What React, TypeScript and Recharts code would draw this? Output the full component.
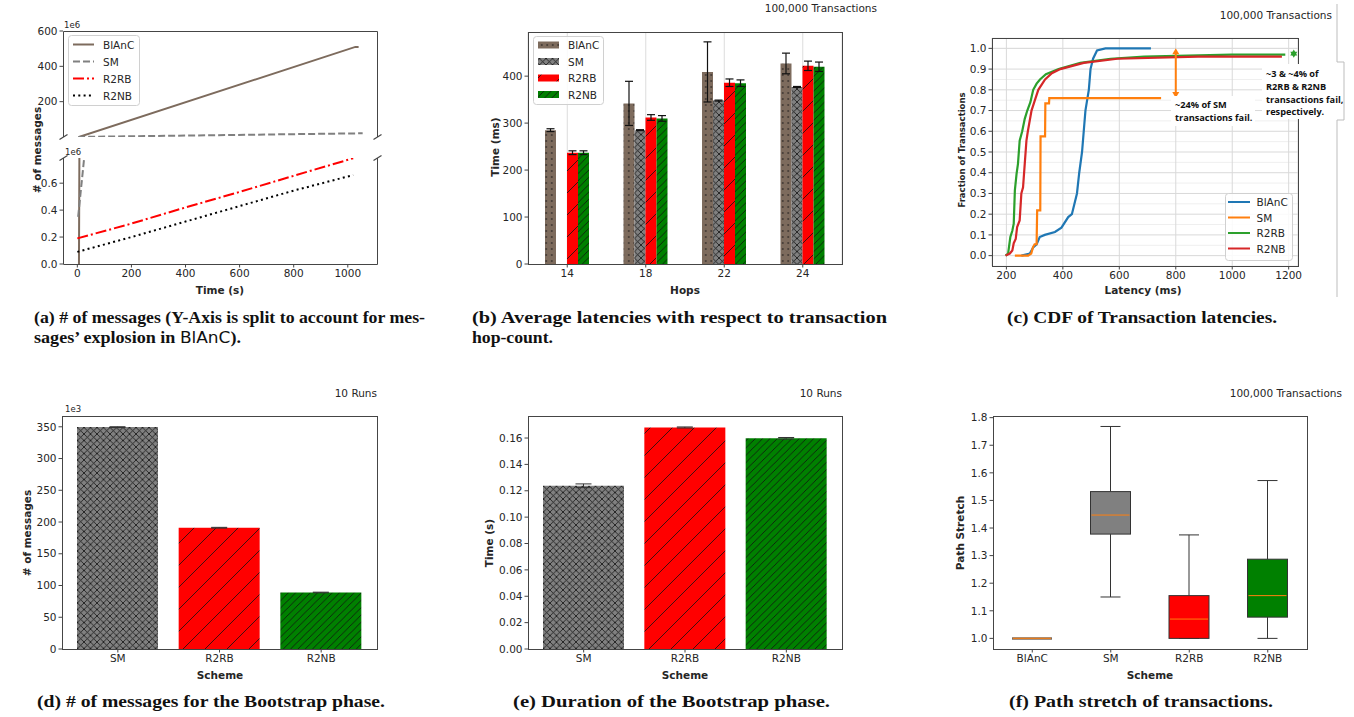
import React from "react";
import {
  Bar,
  BarChart,
  CartesianGrid,
  Cell,
  ErrorBar,
  Line,
  LineChart,
  ReferenceLine,
  XAxis,
  YAxis,
} from "recharts";

const SANS = "'DejaVu Sans', sans-serif";
const SERIF = "'Liberation Serif', serif";
const NOTE = "'Open Sans', sans-serif";
const INK = "#262626";
const SPINE = "#454545";
const BROWN = "#7d6b5d";
const GRAY = "#808080";
const RED = "#ff0000";
const GREEN = "#008000";
const TAB = { blue: "#1f77b4", orange: "#ff7f0e", green: "#2ca02c", red: "#d62728" };

// ---- (a) # of messages over time (values in 1e6) ----
const timeTicks = [0, 200, 400, 600, 800, 1000];
const msgBlancT = [6, 1028, 1040];
const msgBlancV = [0, 510, 510];
const msgSmT = [3, 1055];
const msgSmV = [0.35, 21];
const msgR2T = [0, 200, 400, 600, 800, 1020];
const msgR2rbV = [0.19, 0.3, 0.42, 0.535, 0.655, 0.785];
const msgR2nbV = [0.09, 0.2, 0.315, 0.43, 0.545, 0.66];
const msgTopTicks = [200, 400, 600];
const msgLowTicks = [0, 0.2, 0.4, 0.6];

// ---- (b) average latency per hop count ----
const hops = ["14", "18", "22", "24"];
const latBlanc = [285, 342, 409, 427];
const latBlancErr = [3, 47, 64, 22];
const latSm = [null, 285, 348, 377];
const latSmErr = [null, 1, 1, 1];
const latR2rb = [237, 312, 386, 422];
const latR2rbErr = [4, 6, 8, 10];
const latR2nb = [237, 310, 385, 420];
const latR2nbErr = [4, 6, 7, 10];
const latTicks = [0, 100, 200, 300, 400];

// ---- (c) CDF of latencies ----
const cdfBlancX = [253, 283, 295, 307, 318, 336, 372, 395, 419, 432, 450, 458, 468, 474, 480, 486, 492, 498, 507, 521, 551, 712];
const cdfBlancY = [0, 0.01, 0.04, 0.054, 0.09, 0.1, 0.114, 0.135, 0.186, 0.2, 0.3, 0.4, 0.5, 0.6, 0.7, 0.75, 0.8, 0.9, 0.95, 0.99, 1.0, 1.0];
const cdfSmX = [230, 277, 288, 294, 300, 307, 309, 320, 321, 337, 338, 351, 352, 748];
const cdfSmY = [0, 0, 0.01, 0.04, 0.055, 0.055, 0.218, 0.218, 0.575, 0.575, 0.735, 0.735, 0.76, 0.76];
const cdfR2rbX = [197, 206, 214, 221, 226, 230, 236, 241, 247, 256, 265, 274, 285, 295, 307, 319, 340, 385, 462, 569, 688, 998, 1188];
const cdfR2rbY = [0, 0.01, 0.09, 0.12, 0.154, 0.315, 0.395, 0.443, 0.555, 0.6, 0.66, 0.7, 0.74, 0.8, 0.83, 0.85, 0.875, 0.9, 0.93, 0.95, 0.96, 0.97, 0.97];
const cdfR2nbX = [197, 212, 221, 226, 233, 238, 247, 253, 259, 265, 271, 276, 289, 301, 313, 337, 361, 391, 474, 593, 879, 1176];
const cdfR2nbY = [0, 0.01, 0.025, 0.06, 0.08, 0.138, 0.17, 0.3, 0.33, 0.443, 0.555, 0.6, 0.7, 0.75, 0.8, 0.85, 0.88, 0.9, 0.93, 0.95, 0.96, 0.96];
const latencyTicks = [200, 400, 600, 800, 1000, 1200];
const fracTicks = [0, 0.05, 0.1, 0.15, 0.2, 0.25, 0.3, 0.35, 0.4, 0.45, 0.5, 0.55, 0.6, 0.65, 0.7, 0.75, 0.8, 0.85, 0.9, 0.95, 1.0];
const fracMajor = [0, 0.1, 0.2, 0.3, 0.4, 0.5, 0.6, 0.7, 0.8, 0.9, 1.0];
const smFailX = 800;
const smFailSpan = [0.76, 1.0];
const r2FailX = 1218;
const r2FailSpan = [0.955, 0.995];

// ---- (d)/(e) bootstrap phase, 10 runs ----
const bootSchemes = ["SM", "R2RB", "R2NB"];
const bootMsgs = [349.5, 191, 89]; // 1e3
const bootMsgsErr = [0.6, 0.6, 0.5];
const bootMsgTicks = [0, 50, 100, 150, 200, 250, 300, 350];
const bootTime = [0.1238, 0.168, 0.1598];
const bootTimeErr = [0.0014, 0.0004, 0.0006];
const bootTimeTicks = [0, 0.02, 0.04, 0.06, 0.08, 0.1, 0.12, 0.14, 0.16];

// ---- (f) path stretch box plot ----
const stretchSchemes = ["BlAnC", "SM", "R2RB", "R2NB"];
const stretchLo = [1.0, 1.15, 1.0, 1.0];
const stretchQ1 = [1.0, 1.378, 1.0, 1.077];
const stretchMed = [1.0, 1.447, 1.07, 1.155];
const stretchQ3 = [1.0, 1.532, 1.155, 1.287];
const stretchHi = [1.0, 1.768, 1.375, 1.572];
const stretchTicks = [1.0, 1.1, 1.2, 1.3, 1.4, 1.5, 1.6, 1.7, 1.8];
const STRETCH_DOM = [0.9615, 1.806];

const pts = (xs: number[], ys: number[]) => xs.map((t, i) => ({ t, v: ys[i] }));

const latRows = hops.map((hop, i) => ({
  hop,
  blanc: latBlanc[i],
  blancErr: latBlancErr[i],
  sm: latSm[i],
  smErr: latSmErr[i],
  r2rb: latR2rb[i],
  r2rbErr: latR2rbErr[i],
  r2nb: latR2nb[i],
  r2nbErr: latR2nbErr[i],
}));
const msgRows = bootSchemes.map((scheme, i) => ({ scheme, v: bootMsgs[i], err: bootMsgsErr[i] }));
const timeRows = bootSchemes.map((scheme, i) => ({ scheme, v: bootTime[i], err: bootTimeErr[i] }));
const stretchRows = stretchSchemes.map((scheme, i) => ({
  scheme,
  lo: stretchLo[i],
  q1: stretchQ1[i],
  med: stretchMed[i],
  q3: stretchQ3[i],
  hi: stretchHi[i],
}));

const HATCH: Record<string, string> = {
  BlAnC: "url(#hDots)",
  SM: "url(#hCross)",
  R2RB: "url(#hSlash)",
  R2NB: "url(#hDense)",
};
const BOX_FILL: Record<string, string> = { BlAnC: BROWN, SM: GRAY, R2RB: RED, R2NB: GREEN };

// plot areas on the page
type Rect = { x0: number; y0: number; x1: number; y1: number };
const A_TOP: Rect = { x0: 63, y0: 31, x1: 377, y1: 137 };
const A_LOW: Rect = { x0: 63, y0: 158, x1: 377, y1: 264 };
const B_R: Rect = { x0: 528, y0: 32, x1: 842, y1: 264 };
const C_R: Rect = { x0: 992, y0: 38, x1: 1298, y1: 266 };
const D_R: Rect = { x0: 62, y0: 416, x1: 377, y1: 649 };
const E_R: Rect = { x0: 528, y0: 416, x1: 842, y1: 649 };
const F_R: Rect = { x0: 993, y0: 416, x1: 1307, y1: 649 };

const PL = 56, PT = 8, PR = 8, PB = 28;
const cw = (r: Rect) => r.x1 - r.x0 + PL + PR;
const ch = (r: Rect) => r.y1 - r.y0 + PT + PB;
const MARGIN = { top: PT, right: PR, bottom: 0, left: 0 };

function Place({ r, children }: { r: Rect; children: React.ReactNode }) {
  return <div style={{ position: "absolute", left: r.x0 - PL, top: r.y0 - PT }}>{children}</div>;
}

const tickStyle = { fontSize: 10.5, fill: INK, fontFamily: SANS };
const ax = {
  axisLine: false,
  tickLine: { stroke: SPINE },
  tickSize: 3.5,
  tickMargin: 2,
  tick: tickStyle,
};

function PatternDefs() {
  return (
    <svg width={0} height={0} style={{ position: "absolute" }}>
      <defs>
        <pattern id="hDots" width={5.5} height={6} patternUnits="userSpaceOnUse">
          <rect width={5.5} height={6} fill={BROWN} />
          <circle cx={2.75} cy={3} r={0.8} fill="#111" />
        </pattern>
        <pattern id="hCross" width={6.5} height={6.5} patternUnits="userSpaceOnUse">
          <rect width={6.5} height={6.5} fill={GRAY} />
          <path d="M0,0L6.5,6.5M6.5,0L0,6.5" stroke="#111" strokeWidth={0.8} />
        </pattern>
        <pattern id="hSlash" width={22} height={22} patternUnits="userSpaceOnUse">
          <rect width={22} height={22} fill={RED} />
          <path d="M-2,2L2,-2M0,22L22,0M20,24L24,20" stroke="#111" strokeWidth={0.8} />
        </pattern>
        <pattern id="hDense" width={7.3} height={7.3} patternUnits="userSpaceOnUse">
          <rect width={7.3} height={7.3} fill={GREEN} />
          <path d="M-1,1L1,-1M0,7.3L7.3,0M6.3,8.3L8.3,6.3" stroke="#111" strokeWidth={0.8} />
        </pattern>
      </defs>
    </svg>
  );
}

function PanelA() {
  const blanc = <Line key="b" data={pts(msgBlancT, msgBlancV)} dataKey="v" stroke={BROWN} strokeWidth={2} dot={false} isAnimationActive={false} />;
  const sm = <Line key="s" data={pts(msgSmT, msgSmV)} dataKey="v" stroke={GRAY} strokeWidth={2} strokeDasharray="7 3" dot={false} isAnimationActive={false} />;
  return (
    <>
      {/* upper half of the split axis: only the series that reach it */}
      <Place r={A_TOP}>
        <LineChart width={cw(A_TOP)} height={ch(A_TOP)} margin={{ top: 0, right: PR, bottom: PB, left: 0 }}>
          <XAxis type="number" dataKey="t" orientation="top" height={PT} domain={[-53, 1108]} ticks={timeTicks} allowDataOverflow {...ax} tick={false} />
          <YAxis type="number" width={PL} domain={[0, 600]} ticks={msgTopTicks} allowDataOverflow {...ax} />
          {blanc}
          {sm}
        </LineChart>
      </Place>
      <Place r={A_LOW}>
        <LineChart width={cw(A_LOW)} height={ch(A_LOW)} margin={MARGIN}>
          <XAxis type="number" dataKey="t" height={PB} domain={[-53, 1108]} ticks={timeTicks} allowDataOverflow {...ax} />
          <YAxis type="number" width={PL} domain={[0, 0.787]} ticks={msgLowTicks} allowDataOverflow {...ax} tickFormatter={(v: number) => v.toFixed(1)} />
          {blanc}
          {sm}
          <Line data={pts(msgR2T, msgR2rbV)} dataKey="v" stroke={RED} strokeWidth={2} strokeDasharray="11 3 2 3" dot={false} isAnimationActive={false} />
          <Line data={pts(msgR2T, msgR2nbV)} dataKey="v" stroke="#000" strokeWidth={2} strokeDasharray="2 3.3" dot={false} isAnimationActive={false} />
        </LineChart>
      </Place>
    </>
  );
}

function PanelB() {
  const eb = { width: 4, stroke: "#111", strokeWidth: 1.2 };
  return (
    <Place r={B_R}>
      <BarChart width={cw(B_R)} height={ch(B_R)} data={latRows} margin={MARGIN} barGap={0} barSize={11}>
        <CartesianGrid horizontal={false} stroke="#dcdcdc" />
        <XAxis dataKey="hop" height={PB} {...ax} />
        <YAxis type="number" width={PL} domain={[0, 494]} ticks={latTicks} allowDataOverflow {...ax} />
        <Bar dataKey="blanc" fill={HATCH.BlAnC} isAnimationActive={false}>
          <ErrorBar dataKey="blancErr" {...eb} />
        </Bar>
        <Bar dataKey="sm" fill={HATCH.SM} isAnimationActive={false}>
          <ErrorBar dataKey="smErr" {...eb} />
        </Bar>
        <Bar dataKey="r2rb" fill={HATCH.R2RB} isAnimationActive={false}>
          <ErrorBar dataKey="r2rbErr" {...eb} />
        </Bar>
        <Bar dataKey="r2nb" fill={HATCH.R2NB} isAnimationActive={false}>
          <ErrorBar dataKey="r2nbErr" {...eb} />
        </Bar>
      </BarChart>
    </Place>
  );
}

function DoubleArrow(color: string) {
  return (p: any) => {
    const x = p.x1;
    const top = Math.min(p.y1, p.y2);
    const bot = Math.max(p.y1, p.y2);
    return (
      <g>
        <line x1={x} y1={top + 4} x2={x} y2={bot - 4} stroke={color} strokeWidth={2} />
        <path d={`M${x - 3.5},${top + 6} L${x},${top} L${x + 3.5},${top + 6} Z`} fill={color} />
        <path d={`M${x - 3.5},${bot - 6} L${x},${bot} L${x + 3.5},${bot - 6} Z`} fill={color} />
      </g>
    );
  };
}

function PanelC() {
  const series = [
    { x: cdfBlancX, y: cdfBlancY, c: TAB.blue },
    { x: cdfSmX, y: cdfSmY, c: TAB.orange },
    { x: cdfR2rbX, y: cdfR2rbY, c: TAB.green },
    { x: cdfR2nbX, y: cdfR2nbY, c: TAB.red },
  ];
  return (
    <Place r={C_R}>
      <LineChart width={cw(C_R)} height={ch(C_R)} margin={MARGIN}>
        <CartesianGrid vertical={false} stroke="#efefef" />
        <CartesianGrid horizontal={false} stroke="#d9d9d9" />
        <XAxis type="number" dataKey="t" height={PB} domain={[149, 1233]} ticks={latencyTicks} allowDataOverflow {...ax} />
        <YAxis
          type="number"
          width={PL}
          domain={[-0.05, 1.05]}
          ticks={fracTicks}
          allowDataOverflow
          {...ax}
          tickFormatter={(v: number) => (Math.round(v * 100) % 10 === 0 ? v.toFixed(1) : "")}
        />
        {fracMajor.map((v) => (
          <ReferenceLine key={v} y={v} stroke="#d9d9d9" />
        ))}
        {series.map((s, i) => (
          <Line key={i} data={pts(s.x, s.y)} dataKey="v" stroke={s.c} strokeWidth={2.2} dot={false} isAnimationActive={false} />
        ))}
        <ReferenceLine
          segment={[{ x: smFailX, y: smFailSpan[0] }, { x: smFailX, y: smFailSpan[1] }]}
          shape={DoubleArrow(TAB.orange)}
        />
        <ReferenceLine
          segment={[{ x: r2FailX, y: r2FailSpan[0] }, { x: r2FailX, y: r2FailSpan[1] }]}
          shape={DoubleArrow(TAB.green)}
        />
      </LineChart>
    </Place>
  );
}

function BootBars({ r, rows, dom, ticks, fmt, cap }: any) {
  return (
    <Place r={r}>
      <BarChart width={cw(r)} height={ch(r)} data={rows} margin={MARGIN} barSize={81}>
        <XAxis dataKey="scheme" height={PB} padding={{ left: 5, right: 5 }} {...ax} />
        <YAxis type="number" width={PL} domain={dom} ticks={ticks} allowDataOverflow {...ax} tickFormatter={fmt} />
        <Bar dataKey="v" isAnimationActive={false}>
          {rows.map((row: any) => (
            <Cell key={row.scheme} fill={HATCH[row.scheme]} />
          ))}
          <ErrorBar dataKey="err" width={cap} stroke="#333" strokeWidth={1} />
        </Bar>
      </BarChart>
    </Place>
  );
}

function StretchBox(props: any) {
  const { x, y, width, height, payload } = props;
  const span = payload.hi - STRETCH_DOM[0];
  const py = (v: number) => y + ((payload.hi - v) / span) * height;
  const cx = x + width / 2;
  const fill = BOX_FILL[payload.scheme];
  const flat = payload.q3 === payload.q1;
  return (
    <g>
      {!flat && (
        <>
          <line x1={cx} x2={cx} y1={py(payload.lo)} y2={py(payload.q1)} stroke="#333" />
          <line x1={cx} x2={cx} y1={py(payload.q3)} y2={py(payload.hi)} stroke="#333" />
          <line x1={cx - 10} x2={cx + 10} y1={py(payload.lo)} y2={py(payload.lo)} stroke="#333" />
          <line x1={cx - 10} x2={cx + 10} y1={py(payload.hi)} y2={py(payload.hi)} stroke="#333" />
          <rect x={x} y={py(payload.q3)} width={width} height={py(payload.q1) - py(payload.q3)} fill={fill} stroke="#333" />
        </>
      )}
      {flat && <line x1={x} x2={x + width} y1={py(payload.med)} y2={py(payload.med)} stroke={fill} strokeWidth={2.5} />}
      <line x1={x + 1} x2={x + width - 1} y1={py(payload.med)} y2={py(payload.med)} stroke={TAB.orange} strokeWidth={flat ? 1.2 : 1} opacity={flat ? 0.8 : 1} />
    </g>
  );
}

function PanelF() {
  return (
    <Place r={F_R}>
      <BarChart width={cw(F_R)} height={ch(F_R)} data={stretchRows} margin={MARGIN} barSize={40}>
        <XAxis dataKey="scheme" height={PB} {...ax} />
        <YAxis type="number" width={PL} domain={STRETCH_DOM} ticks={stretchTicks} allowDataOverflow {...ax} tickFormatter={(v: number) => v.toFixed(1)} />
        <Bar dataKey="hi" shape={StretchBox} isAnimationActive={false} />
      </BarChart>
    </Place>
  );
}

function Txt({ x, y, children, size = 10.5, bold = false, anchor = "start", rot = false, family = SANS }: any) {
  return (
    <text
      x={x}
      y={y}
      fontSize={size}
      fontWeight={bold ? "bold" : "normal"}
      fontFamily={family}
      fill={INK}
      textAnchor={anchor}
      dominantBaseline="central"
      transform={rot ? `rotate(-90 ${x} ${y})` : undefined}
    >
      {children}
    </text>
  );
}

function Caption({ x, y, w, children }: any) {
  return (
    <text x={x} y={y} fontSize={16} fontWeight="bold" fontFamily={SERIF} fill="#111" textLength={w} lengthAdjust="spacingAndGlyphs">
      {children}
    </text>
  );
}

const frame = (r: Rect) => (
  <rect x={r.x0 + 0.5} y={r.y0 + 0.5} width={r.x1 - r.x0} height={r.y1 - r.y0} fill="none" stroke={SPINE} />
);
const brk = (x: number, y: number) => <path d={`M${x - 4},${y + 2.5} L${x + 4},${y - 2.5}`} stroke={SPINE} strokeWidth={1.2} />;

function Overlay() {
  const legA = [
    { label: "BlAnC", c: BROWN, d: undefined },
    { label: "SM", c: GRAY, d: "7 3" },
    { label: "R2RB", c: RED, d: "11 3 2 3" },
    { label: "R2NB", c: "#000", d: "2 3.3" },
  ];
  const legB = ["BlAnC", "SM", "R2RB", "R2NB"];
  const legC = [
    { label: "BlAnC", c: TAB.blue },
    { label: "SM", c: TAB.orange },
    { label: "R2RB", c: TAB.green },
    { label: "R2NB", c: TAB.red },
  ];
  const boxStyle = { fill: "#fff", fillOpacity: 0.85, stroke: "#d0d0d0", rx: 3 };
  return (
    <svg width={1354} height={717} style={{ position: "absolute", left: 0, top: 0, pointerEvents: "none" }}>
      {/* spines */}
      <path d={`M${A_TOP.x0 + 0.5},${A_TOP.y1} V${A_TOP.y0 + 0.5} H${A_TOP.x1 + 0.5} V${A_TOP.y1}`} fill="none" stroke={SPINE} />
      <path d={`M${A_LOW.x0 + 0.5},${A_LOW.y0} V${A_LOW.y1 + 0.5} H${A_LOW.x1 + 0.5} V${A_LOW.y0}`} fill="none" stroke={SPINE} />
      {brk(A_TOP.x0 + 0.5, A_TOP.y1)}
      {brk(A_TOP.x1 + 0.5, A_TOP.y1)}
      {brk(A_LOW.x0 + 0.5, A_LOW.y0)}
      {brk(A_LOW.x1 + 0.5, A_LOW.y0)}
      {frame(B_R)}
      {frame(C_R)}
      {frame(D_R)}
      {frame(E_R)}
      {frame(F_R)}

      {/* (a) */}
      <Txt x={64} y={25} size={8.5}>1e6</Txt>
      <Txt x={65} y={152} size={8.5}>1e6</Txt>
      <rect x={68.5} y={35.5} width={71} height={70} {...boxStyle} />
      {legA.map((l, i) => (
        <g key={l.label}>
          <line x1={73} x2={94} y1={44.5 + i * 17} y2={44.5 + i * 17} stroke={l.c} strokeWidth={2} strokeDasharray={l.d} />
          <Txt x={103} y={44.5 + i * 17}>{l.label}</Txt>
        </g>
      ))}
      <Txt x={220} y={290} bold size={10.5} anchor="middle">Time (s)</Txt>
      <Txt x={37} y={150} bold size={10.5} anchor="middle" rot>
        # of messages
      </Txt>

      {/* (b) */}
      <Txt x={877} y={8} anchor="end">100,000 Transactions</Txt>
      <rect x={533.5} y={36.5} width={70} height={68} {...boxStyle} />
      {legB.map((k, i) => (
        <g key={k}>
          <rect x={538} y={45 + i * 16.5 - 3.5} width={21} height={7} fill={HATCH[k]} />
          <Txt x={568} y={45 + i * 16.5}>{k}</Txt>
        </g>
      ))}
      <Txt x={685} y={290} bold anchor="middle">Hops</Txt>
      <Txt x={495} y={147} bold anchor="middle" rot>
        Time (ms)
      </Txt>

      {/* (c) */}
      <Txt x={1332} y={15} anchor="end">100,000 Transactions</Txt>
      <rect x={1225.5} y={193.5} width={67} height={67} {...boxStyle} />
      {legC.map((l, i) => (
        <g key={l.label}>
          <line x1={1228} x2={1250} y1={202 + i * 15.5} y2={202 + i * 15.5} stroke={l.c} strokeWidth={2} />
          <Txt x={1256.5} y={202 + i * 15.5}>{l.label}</Txt>
        </g>
      ))}
      <Txt x={1143} y={290} bold anchor="middle">Latency (ms)</Txt>
      <Txt x={962} y={150} bold size={8.5} anchor="middle" rot>
        Fraction of Transactions
      </Txt>
      <rect x={1171} y={96} width={84} height={30} fill="#fff" />
      <text fontFamily={NOTE} fontWeight="bold" fontSize={9.2} fill="#111">
        <tspan x={1175} y={108}>~24% of SM</tspan>
        <tspan x={1175} y={121}>transactions fail.</tspan>
      </text>
      <rect x={1262} y={64} width={81} height={55} fill="#fff" />
      <text fontFamily={NOTE} fontWeight="bold" fontSize={9.2} fill="#111">
        <tspan x={1266} y={77}>~3 &amp; ~4% of</tspan>
        <tspan x={1266} y={90}>R2RB &amp; R2NB</tspan>
        <tspan x={1266} y={103}>transactions fail,</tspan>
        <tspan x={1266} y={115}>respectively.</tspan>
      </text>
      <path d="M1337,4 V62 H1344 V120 H1337 V297" fill="none" stroke="#bdbdbd" />

      {/* (d) */}
      <Txt x={377} y={393} anchor="end">10 Runs</Txt>
      <Txt x={65} y={409} size={8.5}>1e3</Txt>
      <Txt x={220} y={675} bold anchor="middle">Scheme</Txt>
      <Txt x={27} y={533} bold anchor="middle" rot>
        # of messages
      </Txt>

      {/* (e) */}
      <Txt x={842} y={393} anchor="end">10 Runs</Txt>
      <Txt x={685} y={675} bold anchor="middle">Scheme</Txt>
      <Txt x={489} y={543} bold anchor="middle" rot>
        Time (s)
      </Txt>

      {/* (f) */}
      <Txt x={1342} y={393} anchor="end">100,000 Transactions</Txt>
      <Txt x={1150} y={675} bold anchor="middle">Scheme</Txt>
      <Txt x={960} y={533} bold anchor="middle" rot>
        Path Stretch
      </Txt>

      {/* captions */}
      <Caption x={34} y={323} w={391}>(a) # of messages (Y-Axis is split to account for mes-</Caption>
      <Caption x={34} y={343} w={207}>
        sages’ explosion in{" "}
        <tspan fontFamily={SANS} fontWeight="normal" fontSize={15}>
          BlAnC
        </tspan>
        ).
      </Caption>
      <Caption x={472} y={323} w={415}>(b) Average latencies with respect to transaction</Caption>
      <Caption x={472} y={343} w={81}>hop-count.</Caption>
      <Caption x={1007} y={323} w={270}>(c) CDF of Transaction latencies.</Caption>
      <Caption x={37} y={707} w={348}>(d) # of messages for the Bootstrap phase.</Caption>
      <Caption x={513} y={707} w={317}>(e) Duration of the Bootstrap phase.</Caption>
      <Caption x={1009} y={707} w={264}>(f) Path stretch of transactions.</Caption>
    </svg>
  );
}

export default function App() {
  return (
    <div
      style={{
        position: "absolute",
        left: 0,
        top: 0,
        width: 1354,
        height: 717,
        background: "#fff",
        overflow: "hidden",
        fontFamily: SANS,
      }}
    >
      <PatternDefs />
      <PanelA />
      <PanelB />
      <PanelC />
      <BootBars r={D_R} rows={msgRows} dom={[0, 367]} ticks={bootMsgTicks} fmt={(v: number) => String(v)} cap={8} />
      <BootBars r={E_R} rows={timeRows} dom={[0, 0.1767]} ticks={bootTimeTicks} fmt={(v: number) => v.toFixed(2)} cap={8} />
      <PanelF />
      <Overlay />
    </div>
  );
}
